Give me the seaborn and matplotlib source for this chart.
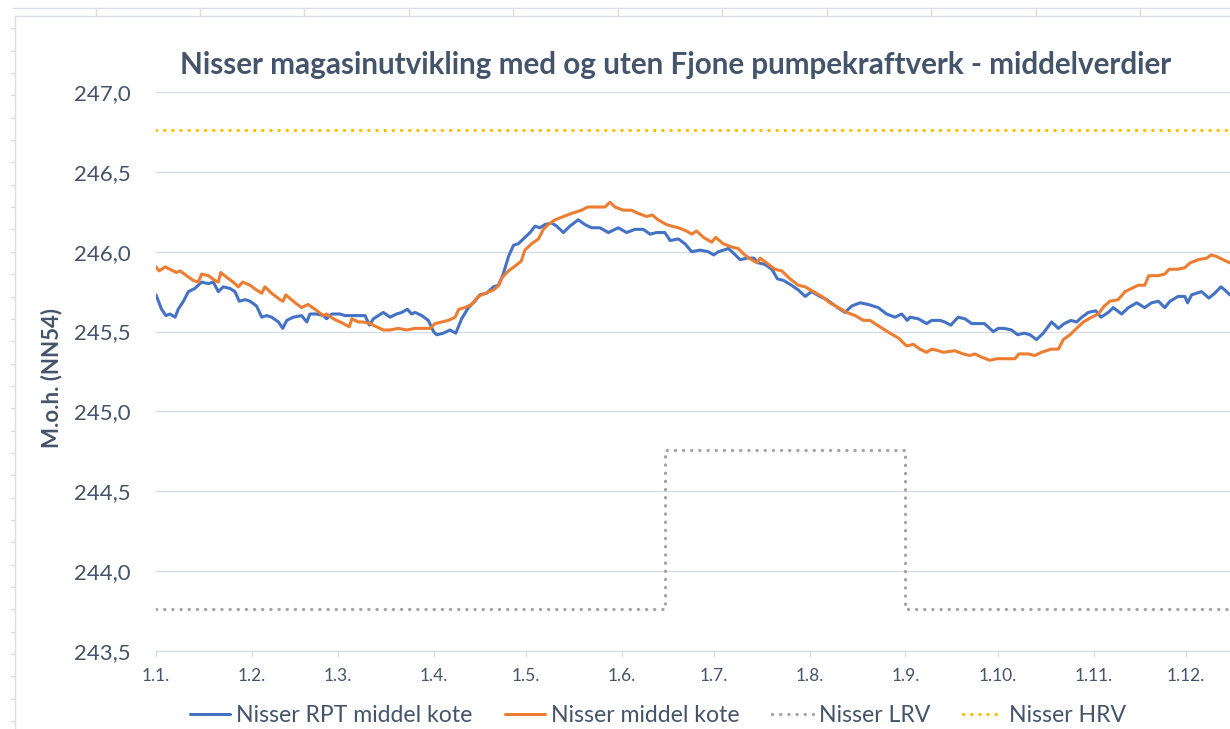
import matplotlib
matplotlib.use("Agg")
import matplotlib.pyplot as plt
from matplotlib.lines import Line2D
import seaborn as sns
import pandas as pd

# ---------------- data ----------------
title = "Nisser magasinutvikling med og uten Fjone pumpekraftverk - middelverdier"
ylabel = "M.o.h. (NN54)"
tick_days = [0, 31, 59, 90, 120, 151, 181, 212, 243, 273, 304, 334]
tick_labels = ["1.1.", "1.2.", "1.3.", "1.4.", "1.5.", "1.6.", "1.7.", "1.8.",
               "1.9.", "1.10.", "1.11.", "1.12."]
y_ticks = [243.5, 244.0, 244.5, 245.0, 245.5, 246.0, 246.5, 247.0]

rpt_days = [0, 1.8, 3.2, 4.5, 6.2, 7.2, 8.9, 10.5, 12.6, 14.8, 17, 18.6, 20.2, 21.8, 24,
            25.6, 27, 28.9, 30.5, 32.6, 34.3, 35.9, 37.5, 39.7, 41.1, 42.4, 44.5, 47.2,
            48.9, 49.9, 52.1, 54.3, 55.3, 57, 59.7, 61.3, 62.9, 65.1, 67.8, 69.2, 70.5,
            72.1, 73.7, 75.9, 78, 79.7, 81.5, 82.9, 84, 86.2, 88.3, 90, 91, 93.2, 95.3,
            97.2, 99.1, 101.3, 103.4, 105, 107.2, 109.4, 111, 112.6, 114.3, 115.9, 117.5,
            119.1, 121.3, 122.9, 124.5, 126.1, 128.3, 129.9, 132.1, 134.2, 136.9, 139.1,
            141.2, 143.9, 146.7, 149.9, 152.6, 155.3, 158, 160.2, 162.3, 165, 166.7,
            169.4, 171.5, 173.7, 176.4, 179.1, 180.8, 182.4, 185.6, 187.3, 189.4, 191.6,
            193.8, 195.4, 197.5, 199.7, 201.5, 203.5, 206.1, 208.3, 210.5, 212.6, 215.3,
            217.5, 219.6, 221.8, 223.4, 225.6, 228.3, 230.9, 234.2, 236.9, 239.6, 241.8,
            243.6, 244.5, 247.2, 249.9, 251.5, 254.2, 255.8, 257.7, 260.1, 262.3, 264.5,
            266.6, 268.6, 271.5, 273.1, 275, 277.4, 279.4, 281.5, 283.4, 285.5, 287.7,
            290.4, 292.6, 294.5, 296.7, 298.5, 300.2, 302.3, 304.7, 306.4, 308.8, 310.4,
            313.1, 315.3, 318, 320.6, 322.8, 325, 327.1, 328.8, 331.4, 333.6, 334.5,
            335.8, 339, 341.4, 343.3, 345.3, 346.6, 348.2]
rpt_level = [245.73, 245.64, 245.60, 245.61, 245.59, 245.64, 245.69, 245.75, 245.77, 245.81,
             245.80, 245.81, 245.75, 245.78, 245.77, 245.75, 245.69, 245.70, 245.69, 245.66,
             245.59, 245.60, 245.59, 245.56, 245.52, 245.57, 245.59, 245.60, 245.56, 245.61,
             245.61, 245.60, 245.58, 245.61, 245.61, 245.60, 245.60, 245.60, 245.60, 245.54,
             245.58, 245.60, 245.62, 245.59, 245.61, 245.62, 245.64, 245.61, 245.62, 245.60,
             245.57, 245.50, 245.48, 245.49, 245.51, 245.49, 245.58, 245.65, 245.69, 245.73,
             245.74, 245.78, 245.79, 245.86, 245.97, 246.04, 246.05, 246.08, 246.12, 246.16,
             246.15, 246.17, 246.18, 246.16, 246.12, 246.16, 246.20, 246.17, 246.15, 246.15,
             246.12, 246.15, 246.12, 246.14, 246.14, 246.11, 246.12, 246.12, 246.07, 246.08,
             246.05, 246.00, 246.01, 246.00, 245.98, 246.00, 246.02, 245.99, 245.95, 245.96,
             245.96, 245.93, 245.92, 245.89, 245.83, 245.82, 245.79, 245.76, 245.72, 245.75,
             245.72, 245.70, 245.67, 245.64, 245.62, 245.66, 245.68, 245.67, 245.65, 245.61,
             245.59, 245.61, 245.57, 245.59, 245.58, 245.55, 245.57, 245.57, 245.56, 245.54,
             245.59, 245.58, 245.55, 245.55, 245.55, 245.50, 245.52, 245.52, 245.51, 245.48,
             245.49, 245.48, 245.45, 245.49, 245.56, 245.52, 245.55, 245.57, 245.56, 245.59,
             245.62, 245.63, 245.59, 245.62, 245.65, 245.61, 245.65, 245.68, 245.65, 245.68,
             245.69, 245.65, 245.69, 245.72, 245.72, 245.68, 245.73, 245.75, 245.71, 245.74,
             245.78, 245.76, 245.73]

mid_days = [0, 1, 3, 4.5, 6.6, 7.8, 9.9, 12.1, 13.7, 14.8, 17, 19.1, 20.2, 21, 22.9, 25,
            26.7, 28.1, 30.5, 32.6, 34.3, 35.3, 37.5, 40.2, 41.2, 42.1, 44.5, 47.2, 49.3,
            51.5, 54.3, 55.3, 57.5, 60.8, 62.7, 63.5, 65.6, 67.2, 69.4, 71.5, 73.7, 75.9,
            78.6, 81.3, 84, 88.9, 90.5, 92.6, 94.8, 97, 98.2, 100.2, 102.3, 104.5, 106.7,
            109.4, 111.2, 112.3, 114.3, 116.4, 118.4, 119.6, 121.8, 124, 125.6, 127.2,
            129.4, 132.1, 134.8, 138, 140, 142.9, 145.6, 147.2, 148.8, 151.5, 154.2, 156.4,
            159.1, 160.9, 162.8, 165.5, 167.2, 169.4, 172, 173.7, 175.3, 177.5, 180.2,
            181.5, 183.9, 186.6, 188.8, 190.9, 193.1, 194.9, 195.9, 198, 200.7, 202.9,
            205.6, 208.3, 210.5, 213.2, 215.9, 218.5, 221.3, 224, 226.7, 229.4, 231.5,
            234.7, 238, 240.7, 243.4, 245.6, 247.7, 249.9, 251.5, 253.7, 255.3, 259,
            261.7, 263.9, 265.5, 267.7, 270.4, 272.6, 275.8, 278.5, 279.8, 282.8, 285,
            287.1, 290.2, 292.6, 294.2, 296.4, 298.5, 300.7, 303.4, 305.5, 307.5, 309.3,
            312, 314.2, 316.3, 318.5, 320.6, 321.9, 325, 327.1, 328.5, 331.4, 333.6, 335.3,
            338, 340.7, 342.2, 343.9, 346, 348.2]
mid_level = [245.905, 245.88, 245.905, 245.89, 245.87, 245.88, 245.85, 245.82, 245.81, 245.86,
             245.85, 245.82, 245.81, 245.87, 245.84, 245.81, 245.78, 245.81, 245.79, 245.76,
             245.74, 245.78, 245.74, 245.70, 245.69, 245.73, 245.69, 245.65, 245.67, 245.64,
             245.60, 245.61, 245.58, 245.55, 245.53, 245.58, 245.56, 245.56, 245.55, 245.53,
             245.51, 245.51, 245.52, 245.51, 245.52, 245.52, 245.55, 245.56, 245.57, 245.59,
             245.64, 245.65, 245.67, 245.72, 245.74, 245.76, 245.79, 245.84, 245.88, 245.91,
             245.94, 246.01, 246.05, 246.08, 246.14, 246.17, 246.20, 246.22, 246.24, 246.26,
             246.28, 246.28, 246.28, 246.31, 246.28, 246.26, 246.26, 246.24, 246.22, 246.23,
             246.20, 246.17, 246.16, 246.15, 246.13, 246.11, 246.13, 246.09, 246.06, 246.09,
             246.05, 246.03, 246.02, 245.98, 245.95, 245.93, 245.96, 245.93, 245.89, 245.88,
             245.83, 245.79, 245.78, 245.75, 245.72, 245.68, 245.65, 245.62, 245.60, 245.57,
             245.57, 245.53, 245.49, 245.46, 245.41, 245.42, 245.39, 245.37, 245.39, 245.38,
             245.37, 245.38, 245.36, 245.35, 245.36, 245.34, 245.32, 245.33, 245.33, 245.33,
             245.36, 245.36, 245.35, 245.37, 245.39, 245.39, 245.45, 245.48, 245.52, 245.56,
             245.59, 245.61, 245.66, 245.69, 245.70, 245.75, 245.77, 245.79, 245.79, 245.85,
             245.85, 245.86, 245.89, 245.89, 245.90, 245.93, 245.95, 245.96, 245.98, 245.97,
             245.95, 245.93]

lrv_days = [0, 165, 165, 243, 243, 365]
lrv_level = [243.76, 243.76, 244.76, 244.76, 243.76, 243.76]
hrv_days = [0, 365]
hrv_level = [246.76, 246.76]

names = ["Nisser RPT middel kote", "Nisser middel kote", "Nisser LRV", "Nisser HRV"]

# ---------------- style ----------------
sns.set_style("white")
plt.rcParams["font.family"] = ["Lato", "DejaVu Sans"]
TXT = "#44546A"
GRID = "#D9DCE1"

W, H = 1230, 729
fig = plt.figure(figsize=(W / 100, H / 100), dpi=100)
fig.patch.set_facecolor("white")

# spreadsheet frame behind chart
sheet = "#DADDE2"
fig.add_artist(Line2D([13 / W, 1], [1 - 8 / H] * 2, color=sheet, lw=1))
fig.add_artist(Line2D([15 / W, 1], [1 - 16 / H] * 2, color=sheet, lw=1))
fig.add_artist(Line2D([15 / W] * 2, [0, 1 - 16 / H], color=sheet, lw=1))
for cx in [96, 200, 304, 409, 513, 618, 722, 827, 931, 1036, 1140]:
    fig.add_artist(Line2D([cx / W] * 2, [1 - 8 / H, 1 - 16 / H], color=sheet, lw=1))
ry = 28.3
while ry < H:
    fig.add_artist(Line2D([11 / W, 15 / W], [1 - ry / H] * 2, color=sheet, lw=1))
    ry += 22.35

ax = fig.add_axes([156 / W, 1 - 651 / H, (W - 156) / W, (651 - 92) / H])
ax.set_facecolor("white")

df_rpt = pd.DataFrame({"day": rpt_days, "level": rpt_level})
df_mid = pd.DataFrame({"day": mid_days, "level": mid_level})
df_lrv = pd.DataFrame({"day": lrv_days, "level": lrv_level})
df_hrv = pd.DataFrame({"day": hrv_days, "level": hrv_level})

dot = (0, (0.05, 2.4))
sns.lineplot(data=df_rpt, x="day", y="level", ax=ax, color="#4472C4", lw=2.2,
             label=names[0], sort=False, estimator=None)
sns.lineplot(data=df_mid, x="day", y="level", ax=ax, color="#ED7D31", lw=2.2,
             label=names[1], sort=False, estimator=None)
sns.lineplot(data=df_lrv, x="day", y="level", ax=ax, color="#A5A5A5", lw=2.4,
             linestyle=dot, dash_capstyle="round", label=names[2], sort=False, estimator=None)
sns.lineplot(data=df_hrv, x="day", y="level", ax=ax, color="#FFC000", lw=2.4,
             linestyle=dot, dash_capstyle="round", label=names[3], sort=False, estimator=None)

ax.set_xlim(0, (W - 156) / 3.084)
ax.set_ylim(243.5, 247.0)
ax.set_yticks(y_ticks)
ax.set_yticklabels([f"{v:.1f}".replace(".", ",") for v in y_ticks])
ax.set_xticks(tick_days)
ax.set_xticklabels(tick_labels)
ax.grid(axis="y", color=GRID, lw=1)
ax.grid(axis="x", visible=False)
ax.set_axisbelow(True)
for s in ["top", "right", "left"]:
    ax.spines[s].set_visible(False)
ax.spines["bottom"].set_color(GRID)
ax.spines["bottom"].set_linewidth(1)
ax.tick_params(axis="y", length=0, pad=18, labelsize=16, labelcolor=TXT)
ax.tick_params(axis="x", length=4.5, width=1, color=GRID, direction="out", pad=8,
               labelsize=12.5, labelcolor=TXT, bottom=True)
ax.set_xlabel("")
ax.set_ylabel("")

handles, labels = ax.get_legend_handles_labels()
ax.get_legend().remove()
fig.legend(handles, labels, loc="center", bbox_to_anchor=(658 / W, 1 - 716 / H), ncol=4,
           frameon=False, fontsize=16.6, labelcolor=TXT, handlelength=1.76,
           handletextpad=0.26, columnspacing=1.4, borderaxespad=0, borderpad=0)

fig.text(676 / W, 1 - 65 / H, title, ha="center", va="center", fontsize=21.3,
         fontweight="bold", color=TXT)
fig.text(52 / W, 1 - 378 / H, ylabel, ha="center", va="center", rotation=90,
         fontsize=16, fontweight="bold", color=TXT)

fig.savefig("out.png", dpi=100, facecolor="white")
